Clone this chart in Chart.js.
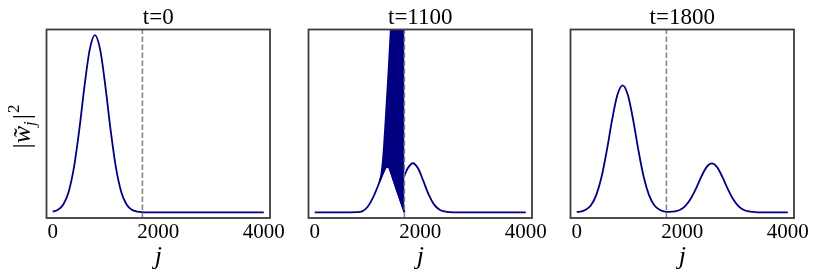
<!DOCTYPE html>
<html>
<head>
<meta charset="utf-8">
<script src="https://cdn.jsdelivr.net/npm/chart.js@4.4.0/dist/chart.umd.min.js"></script>
<style>
  html, body { margin: 0; padding: 0; background: #fff; }
  #wrap { position: relative; width: 831px; height: 278px; overflow: hidden; }
  .panel { position: absolute; top: 0; }
</style>
</head>
<body>
<div id="wrap">
  <canvas class="panel" id="c0" width="300" height="278" style="left:8px"></canvas>
  <canvas class="panel" id="c1" width="300" height="278" style="left:270px"></canvas>
  <canvas class="panel" id="c2" width="300" height="278" style="left:532px"></canvas>
</div>
<script>
// panel titles and axis ticks
const titles = ['t=0', 't=1100', 't=1800'];
const xTicks = [0, 2000, 4000];
const splitJ = 1700;   // dashed marker

// t=0 : single packet
const j0 = [0, 100, 200, 300, 400, 500, 600, 700, 800, 900, 1000, 1100, 1200, 1300, 1400, 1500, 1600, 1700, 1800, 2000, 3000, 4000];
const w0 = [0.004, 0.014, 0.044, 0.114, 0.249, 0.458, 0.707, 0.917, 1.0, 0.917, 0.707, 0.458, 0.249, 0.114, 0.044, 0.014, 0.004, 0.001, 0, 0, 0, 0];

// t=1100 : left of the marker, oscillating band, right of the marker
const j1Left = [0, 500, 800, 900, 1000, 1100, 1200, 1250, 1300, 1350, 1380, 1420, 1500, 1550, 1600, 1650, 1700];
const w1Left = [0, 0, 0.001, 0.005, 0.03, 0.08, 0.15, 0.19, 0.225, 0.255, 0.262, 0.245, 0.175, 0.131, 0.088, 0.044, 0];
const jBand = [1230, 1260, 1300, 1350, 1400, 1450, 1500, 1550, 1600, 1650, 1700];
const bandLow = [0.175, 0.197, 0.225, 0.255, 0.256, 0.219, 0.175, 0.131, 0.088, 0.044, 0];
const bandHigh = [0.175, 0.21, 0.32, 0.55, 0.8, 1.08, 1.4, 1.7, 2.0, 2.3, 2.6];
const j1Right = [1700, 1760, 1860, 1960, 2060, 2160, 2260, 2360, 2460, 2560, 2700, 3000, 4000];
const w1Right = [0.207, 0.247, 0.277, 0.247, 0.176, 0.100, 0.045, 0.016, 0.005, 0.001, 0, 0, 0];

// t=1800 : reflected + transmitted packets
const j2 = [0, 70, 170, 270, 370, 470, 570, 670, 770, 870, 970, 1070, 1170, 1270, 1370, 1470, 1570, 1670, 1760, 1860, 1960, 2060, 2160, 2260, 2360, 2460, 2560, 2660, 2760, 2860, 2960, 3060, 3160, 3260, 3360, 3460, 4000];
const w2 = [0.002, 0.004, 0.014, 0.040, 0.097, 0.199, 0.349, 0.521, 0.662, 0.717, 0.662, 0.521, 0.349, 0.199, 0.097, 0.040, 0.014, 0.004, 0.003, 0.005, 0.015, 0.037, 0.077, 0.134, 0.200, 0.255, 0.276, 0.255, 0.200, 0.134, 0.077, 0.037, 0.015, 0.005, 0.002, 0, 0];

const xMin = -118, xMax = 4118;
const yMin = -0.032, yMax = 1.032;

const NAVY = '#000080';
const SERIF = "'Liberation Serif', 'DejaVu Serif', serif";

function pts(xs, ys) {
  return xs.map((x, i) => ({ x: x, y: ys[i] }));
}

function curve(xs, ys, extra) {
  return Object.assign({
    data: pts(xs, ys),
    borderColor: NAVY,
    backgroundColor: NAVY,
    borderWidth: 1.8,
    pointRadius: 0,
    cubicInterpolationMode: 'monotone',
    fill: false,
    order: 1
  }, extra || {});
}

function marker() {
  return {
    data: [{ x: splitJ, y: yMin }, { x: splitJ, y: yMax }],
    borderColor: '#808080',
    borderWidth: 1.5,
    borderDash: [5.5, 2.5],
    pointRadius: 0,
    fill: false,
    order: 0
  };
}

// box around the plot area
const frame = {
  id: 'frame',
  afterDatasetsDraw(chart) {
    const a = chart.chartArea, ctx = chart.ctx;
    ctx.save();
    ctx.strokeStyle = '#3c3c3c';
    ctx.lineWidth = 1.8;
    ctx.strokeRect(a.left, a.top, a.right - a.left, a.bottom - a.top);
    ctx.restore();
  }
};

// |w~_j|^2 rotated label for the first panel
const yLabel = {
  id: 'yLabel',
  afterDraw(chart) {
    const ctx = chart.ctx;
    const big = 26, small = 17;
    const parts = [
      { t: '|', f: big + 'px ' + SERIF, dy: 0 },
      { t: 'w', f: 'italic ' + big + 'px ' + SERIF, dy: 0, tilde: true },
      { t: 'j', f: 'italic ' + small + 'px ' + SERIF, dy: 5 },
      { t: '|', f: big + 'px ' + SERIF, dy: 0, pre: 2 },
      { t: '2', f: small + 'px ' + SERIF, dy: -11, pre: 1 }
    ];
    ctx.save();
    let total = 0;
    parts.forEach(p => { ctx.font = p.f; p.w = ctx.measureText(p.t).width; total += p.w + (p.pre || 0); });
    ctx.translate(22, 126.5);
    ctx.rotate(-Math.PI / 2);
    ctx.fillStyle = '#000';
    ctx.textBaseline = 'alphabetic';
    let x = -total / 2;
    parts.forEach(p => {
      x += p.pre || 0;
      ctx.font = p.f;
      ctx.fillText(p.t, x, p.dy);
      if (p.tilde) {
        ctx.font = big + 'px ' + SERIF;
        const tw = ctx.measureText('\u02DC').width;
        ctx.fillText('\u02DC', x + (p.w - tw) / 2 + 2, 1);
      }
      x += p.w;
    });
    ctx.restore();
  }
};

function makeChart(id, title, datasets, extraPlugins) {
  return new Chart(document.getElementById(id), {
    type: 'line',
    data: { datasets: datasets },
    options: {
      responsive: false,
      animation: false,
      layout: { padding: { left: 38.5, right: 38, top: 0, bottom: 0 } },
      plugins: {
        legend: { display: false },
        tooltip: { enabled: false },
        title: {
          display: true,
          text: title,
          color: '#000',
          font: { family: SERIF, size: 23, weight: 'normal', lineHeight: 1 },
          padding: { top: 6, bottom: 0.5 }
        }
      },
      scales: {
        x: {
          type: 'linear',
          min: xMin,
          max: xMax,
          afterBuildTicks: s => { s.ticks = xTicks.map(v => ({ value: v })); },
          afterFit: s => { s.height = 60; },
          grid: { display: false, drawTicks: false },
          border: { display: false },
          ticks: {
            color: '#000',
            padding: 2,
            maxRotation: 0,
            autoSkip: false,
            font: { family: SERIF, size: 21 },
            callback: v => String(v)
          },
          title: {
            display: true,
            text: 'j',
            color: '#000',
            font: { family: SERIF, size: 26, style: 'italic' },
            padding: { top: 0, bottom: 5.4 }
          }
        },
        y: { display: false, min: yMin, max: yMax }
      }
    },
    plugins: [frame].concat(extraPlugins || [])
  });
}

makeChart('c0', titles[0], [marker(), curve(j0, w0)], [yLabel]);

makeChart('c1', titles[1], [
  marker(),
  curve(jBand, bandHigh, { fill: '+1' }),
  curve(jBand, bandLow),
  curve(j1Left, w1Left),
  curve(j1Right, w1Right)
]);

makeChart('c2', titles[2], [marker(), curve(j2, w2)]);
</script>
</body>
</html>
